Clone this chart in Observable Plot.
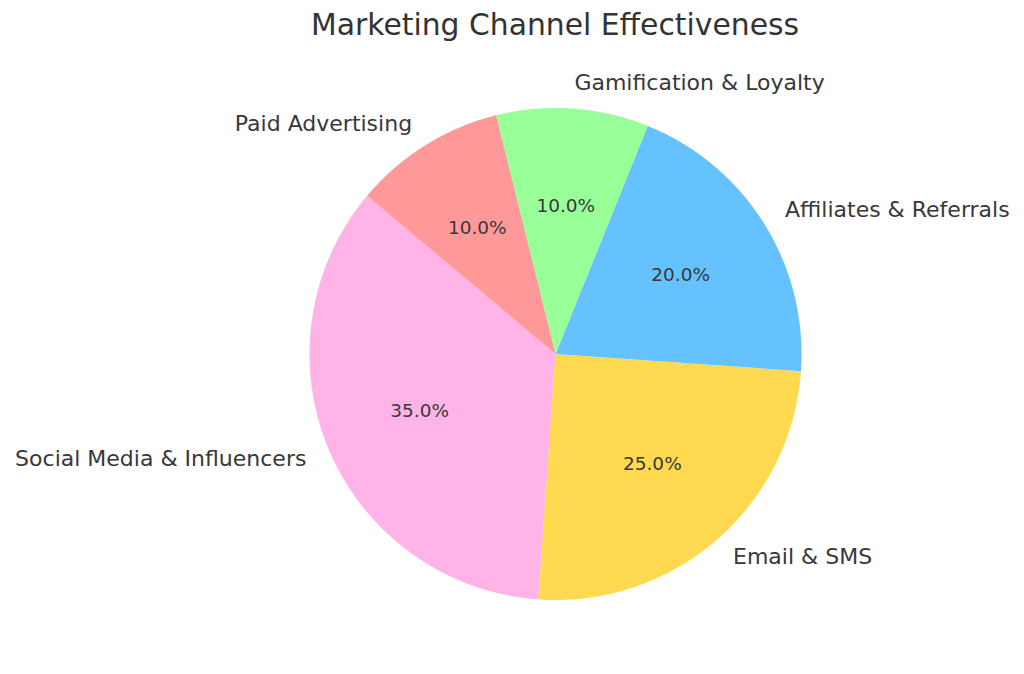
<!DOCTYPE html>
<html>
<head>
<meta charset="utf-8">
<script src="https://cdn.jsdelivr.net/npm/d3@7"></script>
<script src="https://cdn.jsdelivr.net/npm/@observablehq/plot@0.6"></script>
<style>
  html, body { margin: 0; padding: 0; background: #fff; }
  #title {
    box-sizing: border-box; width: 1024px; height: 50px; padding-left: 86px;
    text-align: center; font-family: "DejaVu Sans", sans-serif; font-size: 29.8px;
    line-height: 49px; color: #333;
  }
</style>
</head>
<body>
<div id="title">Marketing Channel Effectiveness</div>
<div id="chart"></div>
<script>
// Data
const channels = ["Social Media & Influencers", "Email & SMS", "Affiliates & Referrals", "Gamification & Loyalty", "Paid Advertising"];
const shares = [35, 25, 20, 10, 10];
const colors = ["#ffb3e6", "#ffd94f", "#66c2ff", "#99ff99", "#ff9999"];
const startAngle = 140; // degrees, counterclockwise like matplotlib

// Layout
const W = 1024, H = 624, cx = 555, cy = 303.5, R = 246;

const total = d3.sum(shares);
let cum = 0;
const slices = channels.map((name, i) => {
  const a0 = startAngle + 360 * cum / total;
  cum += shares[i];
  const a1 = startAngle + 360 * cum / total;
  return {name, value: shares[i], a0, a1, mid: (a0 + a1) / 2};
});

const rad = (deg) => deg * Math.PI / 180;
const pts = [];
for (const s of slices) {
  pts.push({name: s.name, x: 0, y: 0});
  const n = Math.ceil((s.a1 - s.a0) / 0.25);
  for (let k = 0; k <= n; k++) {
    const a = rad(s.a0 + (s.a1 - s.a0) * k / n);
    pts.push({name: s.name, x: Math.cos(a), y: Math.sin(a)});
  }
  pts.push({name: s.name, x: 0, y: 0});
}

const labels = slices.map(s => ({
  name: s.name,
  x: 1.1 * Math.cos(rad(s.mid)),
  y: 1.1 * Math.sin(rad(s.mid)),
  px: 0.6 * Math.cos(rad(s.mid)),
  py: 0.6 * Math.sin(rad(s.mid)),
  pct: (100 * s.value / total).toFixed(1) + "%"
}));

const chart = Plot.plot({
  width: W, height: H,
  margin: 0,
  x: {domain: [-cx / R, (W - cx) / R], axis: null},
  y: {domain: [-(H - cy) / R, cy / R], axis: null},
  color: {domain: channels, range: colors},
  style: {fontFamily: "DejaVu Sans, sans-serif", color: "#333", background: "#fff"},
  marks: [
    Plot.line(pts, {x: "x", y: "y", z: "name", fill: "name", stroke: null, curve: "linear"}),
    Plot.text(labels.filter(d => d.x >= 0), {x: "x", y: "y", text: "name", textAnchor: "start", fontSize: 22, fill: "#383838", dy: -1}),
    Plot.text(labels.filter(d => d.x < 0), {x: "x", y: "y", text: "name", textAnchor: "end", fontSize: 22, fill: "#383838", dy: -1}),
    Plot.text(labels, {x: "px", y: "py", text: "pct", textAnchor: "middle", fontSize: 18.5, fill: "#383838", dy: -1})
  ]
});
document.getElementById("chart").appendChild(chart);
</script>
</body>
</html>
